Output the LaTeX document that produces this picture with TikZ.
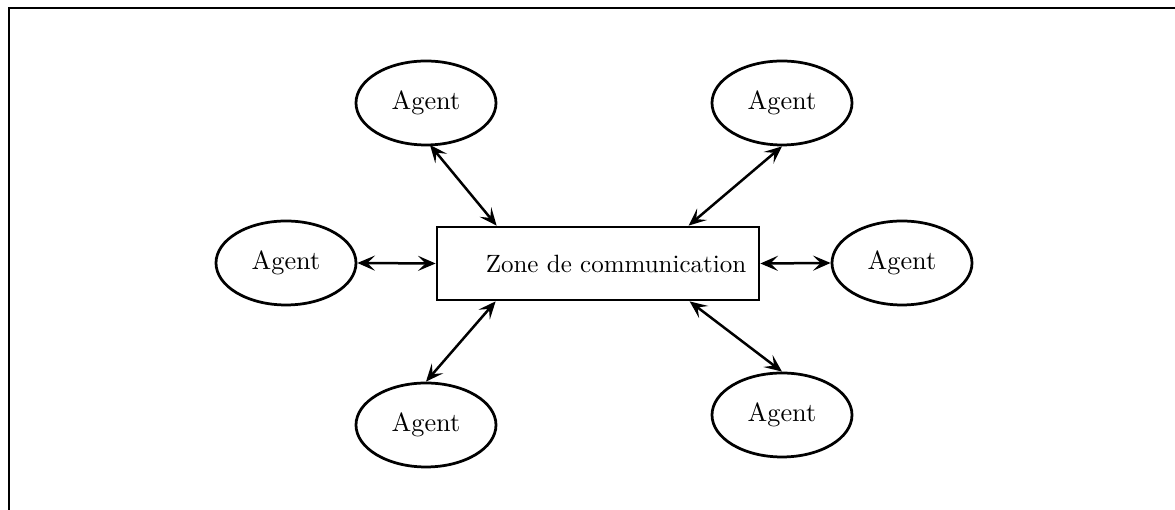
\documentclass[tikz,border=0pt]{standalone}
\usepackage{fontspec}
\usetikzlibrary{shapes.geometric,arrows.meta,calc}
\begin{document}
\begin{tikzpicture}[x=0.4pt,y=-0.4pt,
  agent/.style={draw,ellipse,line width=1.1pt,inner sep=0pt,minimum width=56pt,minimum height=33.6pt,font=\fontsize{10.5}{13}\selectfont\addfontfeature{LetterSpace=10}},
  zonebox/.style={draw,rectangle,line width=1.1pt,inner sep=0pt,minimum width=128.8pt,minimum height=29.2pt,font=\fontsize{10}{12}\selectfont},
  link/.style={line width=1pt,{Stealth[length=7pt,width=6pt,inset=3pt]}-{Stealth[length=7pt,width=6pt,inset=3pt]}},
  frameline/.style={line width=0.8pt}]
\useasboundingbox (0,0) rectangle (1175,510);
\draw[frameline] (9,510) -- (9,8) -- (1175,8);
\node[zonebox] (zone) at (598,263.5) {\hspace*{14.4pt}Zone de communication};
\node[agent] (tl) at (426,103) {Agent};
\node[agent] (tr) at (782,103) {Agent};
\node[agent] (l) at (286,263) {Agent};
\node[agent] (r) at (902,263) {Agent};
\node[agent] (bl) at (426,425) {Agent};
\node[agent] (br) at (782,415) {Agent};
\draw[link] ($(tl.center)+(4,42)$) -- ($(zone.north west)+(61,0)$);
\draw[link] (tr.south) -- ($(zone.north west)+(253,0)$);
\draw[link] (l.east) -- (zone.west);
\draw[link] (zone.east) -- (r.west);
\draw[link] ($(zone.south west)+(60,0)$) -- (bl.north);
\draw[link] ($(zone.south west)+(254,0)$) -- (br.north);
\end{tikzpicture}
\end{document}
